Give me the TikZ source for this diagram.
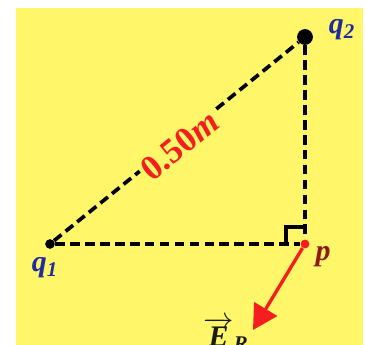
\documentclass[tikz,border=0pt]{standalone}
\usepackage{fontspec}
\setmainfont{Liberation Serif}
\usetikzlibrary{arrows.meta}
\definecolor{Sheet}{HTML}{FFF66A}
\definecolor{Charge}{HTML}{1F2C9C}
\definecolor{Field}{HTML}{F51E1E}
\definecolor{Point}{HTML}{8E1A14}
\definecolor{Ink}{HTML}{1A1A1A}

\begin{document}
\begin{tikzpicture}[
      x=0.02cm,y=-0.02cm,
      dot/.style={circle,fill=black,inner sep=0pt},
      side/.style={dash pattern=on 5.5pt off 3pt,line width=2.1pt},
      lbl/.style={font=\fontsize{17}{19}\selectfont\bfseries\itshape,inner sep=1pt},
      field/.style={-{Triangle[length=14pt,width=15pt]},line width=1.9pt,color=Field}
    ]
      \useasboundingbox (0,0) rectangle (366,345);
      \fill[Sheet] (16,8) rectangle (363,345);
      \node[dot,minimum size=5.5pt] (q1) at (50,244) {};
      \node[dot,minimum size=9pt] (q2) at (305,37) {};
      \node[dot,fill=Field,minimum size=5pt] (p) at (305,244) {};
      \coordinate (tip) at (253,330);
      \draw[side] (q1) -- node[sloped,fill=Sheet,inner sep=1.5pt,yshift=-3pt,text=Field,
        font=\fontsize{20}{22}\selectfont\bfseries] (dist) {0.50\textit{m}} (q2);
      \draw[side] (q2) -- (p);
      \draw[side] (q1) -- (p);
      \draw[line width=2.6pt] ([shift={(-19,0)}]p.center) -- ([shift={(-19,-17)}]p.center)
        -- ([shift={(0,-17)}]p.center);
      \draw[field] (p) -- (tip);
      \node[lbl,text=Charge] (q2lbl) at (342,30) {q\textsubscript{2}};
      \node[lbl,text=Charge] (q1lbl) at (45,268) {q\textsubscript{1}};
      \node[lbl,text=Point] (plbl) at (323,257) {p};
      \node[lbl,text=Ink] (Elbl) at (226,334) {$\overrightarrow{\mbox{E}}$\textsubscript{R}};
    \end{tikzpicture}
\end{document}
